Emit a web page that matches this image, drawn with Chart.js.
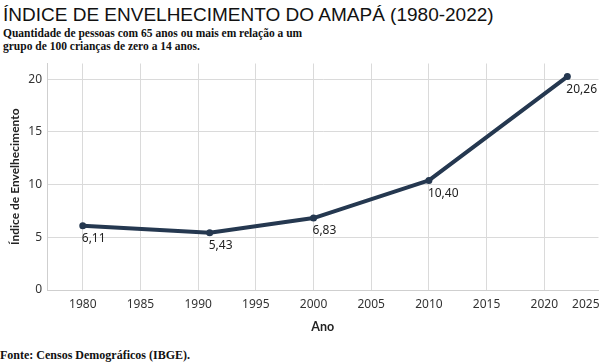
<!DOCTYPE html>
<html>
<head>
<meta charset="utf-8">
<script src="https://cdn.jsdelivr.net/npm/chart.js@4/dist/chart.umd.min.js"></script>
<style>
  html, body { margin: 0; padding: 0; background: #fff; }
  body { width: 602px; height: 363px; position: relative; overflow: hidden; }
  .title { position: absolute; left: 3px; top: 5px; font: 19px/19px "Liberation Sans", Arial, sans-serif; color: #111; white-space: nowrap; }
  .sub { position: absolute; left: 3px; top: 27px; font: bold 11.5px/13px "Liberation Serif", "Times New Roman", serif; color: #111; }
  .foot { position: absolute; left: 0; top: 349px; font: bold 12px/12px "Liberation Serif", "Times New Roman", serif; color: #111; white-space: nowrap; }
  #chart { position: absolute; left: 0; top: 60px; }
</style>
</head>
<body>
<div class="title">ÍNDICE DE ENVELHECIMENTO DO AMAPÁ (1980-2022)</div>
<div class="sub">Quantidade de pessoas com 65 anos ou mais em relação a um<br>grupo de 100 crianças de zero a 14 anos.</div>
<canvas id="chart" width="602" height="280"></canvas>
<div class="foot">Fonte: Censos Demográficos (IBGE).</div>
<script>
// DATA
const years = [1980, 1991, 2000, 2010, 2022];
const indice = [6.11, 5.43, 6.83, 10.40, 20.26];
const xTickYears = [1980, 1985, 1990, 1995, 2000, 2005, 2010, 2015, 2020, 2025];
const xTickLabels = ['1980', '1985', '1990', '1995', '2000', '2005', '2010', '2015', '2020', '2025'];
const yTickLabels = ['0', '5', '10', '15', '20'];

const LINE = '#253850';
const GRID = '#dadada';
const X_MIN = 1976.9, X_MAX = 2024.7, X_LAST_LABEL = 2023.6;

// value labels under each point, like "6,11"
const valueLabels = {
    id: 'valueLabels',
    afterDatasetsDraw(chart) {
        const ctx = chart.ctx;
        const meta = chart.getDatasetMeta(0);
        ctx.save();
        ctx.font = '12px "Noto Sans", sans-serif';
        ctx.fillStyle = '#222';
        ctx.textAlign = 'left';
        ctx.textBaseline = 'middle';
        meta.data.forEach((pt, i) => {
            const txt = indice[i].toFixed(2).replace('.', ',');
            ctx.fillText(txt, pt.x - 1, pt.y + 13);
        });
        ctx.restore();
    }
};

new Chart(document.getElementById('chart'), {
    type: 'line',
    data: {
        datasets: [{
            data: years.map((y, i) => ({ x: y, y: indice[i] })),
            borderColor: LINE,
            backgroundColor: LINE,
            borderWidth: 4,
            borderCapStyle: 'round',
            borderJoinStyle: 'round',
            pointRadius: 3.5,
            pointBorderWidth: 0,
            pointHoverRadius: 3.5,
            tension: 0
        }]
    },
    options: {
        responsive: false,
        animation: false,
        devicePixelRatio: 1,
        layout: { padding: { top: 3, right: 2, left: 0, bottom: 0 } },
        plugins: { legend: { display: false }, tooltip: { enabled: false } },
        scales: {
            x: {
                type: 'linear',
                min: X_MIN,
                max: X_MAX,
                afterBuildTicks(scale) {
                    scale.ticks = xTickYears.map(v => ({ value: Math.min(v, X_LAST_LABEL) }));
                },
                afterFit(scale) {
                    scale.height = 50;
                    scale.paddingLeft = 0;
                    scale.paddingRight = 0;
                },
                grid: {
                    color: c => (c.index === xTickYears.length - 1 ? 'rgba(0,0,0,0)' : GRID),
                    drawTicks: false
                },
                border: { color: '#cfcfcf' },
                ticks: {
                    padding: 7,
                    maxRotation: 0,
                    autoSkip: false,
                    color: '#333',
                    font: { family: '"Noto Sans", sans-serif', size: 12 },
                    callback: (v, i) => xTickLabels[i]
                },
                title: {
                    display: true,
                    text: 'Ano',
                    color: '#222',
                    padding: { top: 0, bottom: 6 },
                    font: { family: 'Lato, "Noto Sans", sans-serif', size: 12.5, weight: 'bold' }
                }
            },
            y: {
                min: 0,
                max: 21.5,
                afterBuildTicks(scale) {
                    scale.ticks = yTickLabels.map(t => ({ value: Number(t) }));
                },
                afterFit(scale) {
                    scale.width = 47;
                    scale.paddingTop = 0;
                    scale.paddingBottom = 0;
                },
                grid: { color: GRID, drawTicks: false },
                border: { color: '#cfcfcf' },
                ticks: {
                    padding: 5,
                    color: '#333',
                    font: { family: '"Noto Sans", sans-serif', size: 12 },
                    callback: (v, i) => yTickLabels[i]
                },
                title: {
                    display: true,
                    text: 'Índice de Envelhecimento',
                    color: '#222',
                    padding: { top: 8, bottom: 0 },
                    font: { family: 'Lato, "Noto Sans", sans-serif', size: 12, weight: 'bold' }
                }
            }
        }
    },
    plugins: [valueLabels]
});
</script>
</body>
</html>
